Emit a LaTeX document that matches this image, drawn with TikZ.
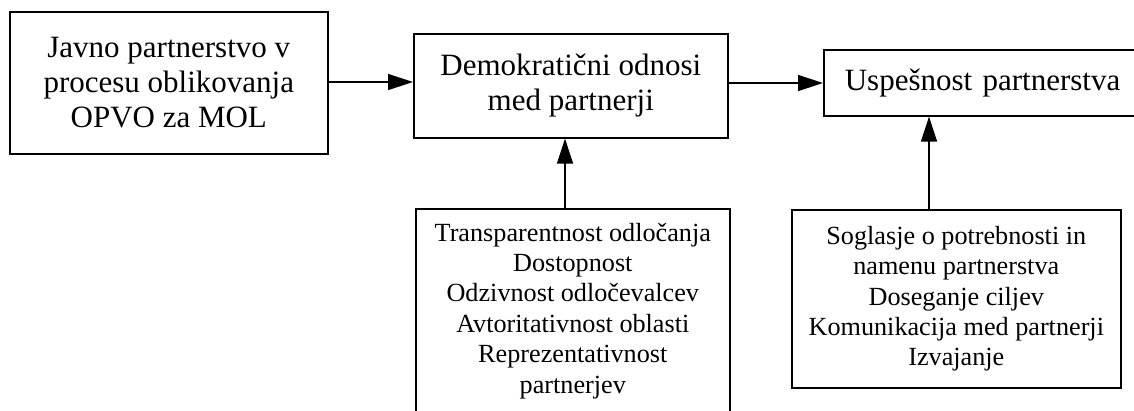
\documentclass[tikz,border=0pt]{standalone}
\usepackage{fontspec}
\setmainfont{Liberation Serif}
\usetikzlibrary{arrows.meta}
\begin{document}
\begin{tikzpicture}[x=1pt,y=1pt,
  box/.style={draw, line width=1.6pt, inner sep=0pt, align=center, anchor=north west},
  big/.style={font=\fontsize{31}{35}\selectfont},
  small/.style={font=\fontsize{26.2}{30.4}\selectfont},
  arr/.style={-{Triangle[length=25pt,width=16pt]}, line width=1.4pt}]
\useasboundingbox (0,0) rectangle (1134,-410);
\node[box,big,minimum width=318pt,minimum height=142pt] (b1) at (9,-11)
  {Javno partnerstvo v\\procesu oblikovanja\\OPVO za MOL};
\node[box,big,minimum width=314pt,minimum height=104pt] (b2) at (413,-33)
  {Demokratični odnosi\\med partnerji};
\node[box,big,minimum width=315pt,minimum height=66pt,text width=311pt,align=left] (b3) at (823,-49)
  {\hspace*{19pt}Uspešnost partnerstva};
\node[box,small,minimum width=314pt,minimum height=204pt] (b4) at (415,-208)
  {Transparentnost odločanja\\Dostopnost\\Odzivnost odločevalcev\\Avtoritativnost oblasti\\Reprezentativnost\\partnerjev};
\node[box,small,minimum width=329pt,minimum height=178pt] (b5) at (791,-209)
  {Soglasje o potrebnosti in\\namenu partnerstva\\Doseganje ciljev\\Komunikacija med partnerji\\Izvajanje};
\draw[arr] (b1.east |- 0,-82) -- (b2.west |- 0,-82);
\draw[arr] (b2.east |- 0,-83) -- (b3.west |- 0,-83);
\draw[arr] (b4.north -| 565,0) -- (b2.south -| 565,0);
\draw[arr] (b5.north -| 929,0) -- (b3.south -| 929,0);
\end{tikzpicture}
\end{document}
